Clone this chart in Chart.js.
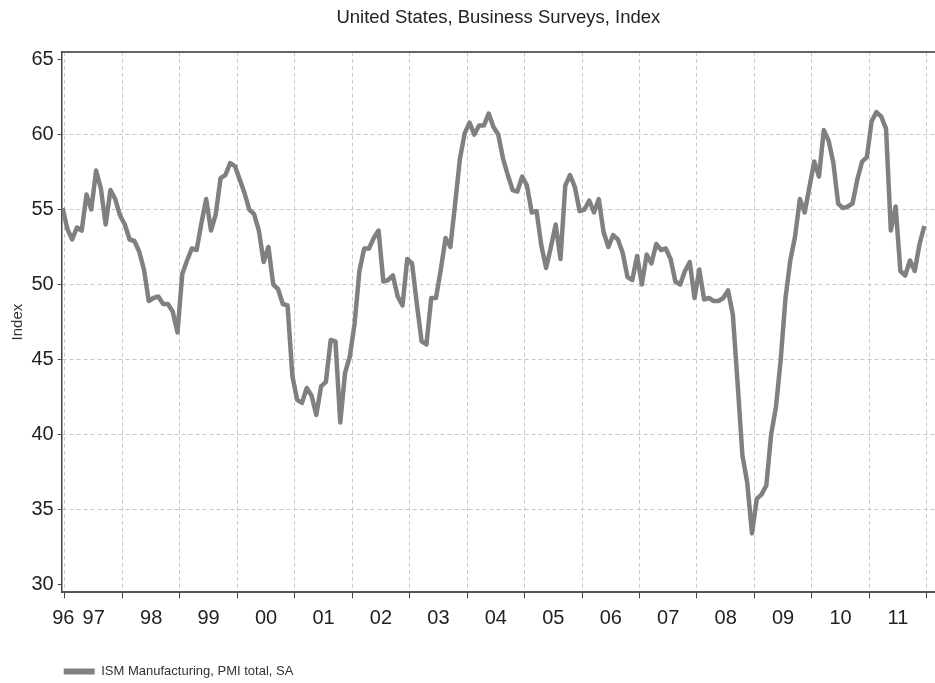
<!DOCTYPE html>
<html>
<head>
<meta charset="utf-8">
<script src="https://cdn.jsdelivr.net/npm/chart.js@4.4.0/dist/chart.umd.min.js"></script>
<style>
  html, body { margin: 0; padding: 0; background: #fff; }
</style>
</head>
<body>
<canvas id="chart" width="935" height="683"></canvas>
<script>
// ISM Manufacturing PMI, monthly, Dec 1996 - Dec 2011
const firstYear = 1996;
const firstMonth = 12;
const pmi1996 = [55.1];
const pmi1997 = [53.7, 53.0, 53.8, 53.6, 56.0, 55.0, 57.6, 56.4, 54.0, 56.3, 55.7, 54.6];
const pmi1998 = [54.0, 53.0, 52.9, 52.2, 51.0, 48.9, 49.1, 49.2, 48.7, 48.7, 48.2, 46.8];
const pmi1999 = [50.7, 51.6, 52.4, 52.3, 54.1, 55.7, 53.6, 54.7, 57.1, 57.3, 58.1, 57.9];
const pmi2000 = [57.0, 56.1, 55.0, 54.7, 53.6, 51.5, 52.5, 50.0, 49.7, 48.7, 48.6, 43.9];
const pmi2001 = [42.3, 42.1, 43.1, 42.6, 41.3, 43.2, 43.5, 46.3, 46.2, 40.8, 44.1, 45.2];
const pmi2002 = [47.4, 50.9, 52.4, 52.4, 53.1, 53.6, 50.2, 50.3, 50.6, 49.2, 48.6, 51.7];
const pmi2003 = [51.4, 48.7, 46.2, 46.0, 49.1, 49.1, 51.0, 53.1, 52.5, 55.4, 58.4, 60.1];
const pmi2004 = [60.8, 60.0, 60.6, 60.6, 61.4, 60.5, 60.0, 58.4, 57.3, 56.3, 56.2, 57.2];
const pmi2005 = [56.6, 54.8, 54.9, 52.6, 51.1, 52.5, 54.0, 51.7, 56.6, 57.3, 56.5, 54.9];
const pmi2006 = [55.0, 55.6, 54.8, 55.7, 53.5, 52.5, 53.3, 53.0, 52.1, 50.5, 50.3, 51.9];
const pmi2007 = [50.0, 52.0, 51.4, 52.7, 52.3, 52.4, 51.7, 50.2, 50.0, 50.9, 51.5, 49.1];
const pmi2008 = [51.0, 49.0, 49.1, 48.9, 48.9, 49.1, 49.6, 48.0, 43.4, 38.6, 36.8, 33.4];
const pmi2009 = [35.7, 36.0, 36.6, 40.0, 41.8, 45.0, 49.1, 51.6, 53.2, 55.7, 54.8, 56.5];
const pmi2010 = [58.2, 57.2, 60.3, 59.6, 58.1, 55.4, 55.1, 55.2, 55.4, 57.0, 58.2, 58.5];
const pmi2011 = [60.9, 61.5, 61.2, 60.4, 53.6, 55.2, 50.9, 50.6, 51.6, 50.9, 52.7, 53.9];

const yearLabels = ['96', '97', '98', '99', '00', '01', '02', '03', '04', '05', '06', '07', '08', '09', '10', '11'];
const yTicks = [30, 35, 40, 45, 50, 55, 60, 65];

const seriesName = 'ISM Manufacturing, PMI total, SA';
const titleText = 'United States, Business Surveys, Index';

const xMin = 1996.943, xMax = 2012.144;
const yMin = 29.47, yMax = 65.52;

const pmi = [pmi1996, pmi1997, pmi1998, pmi1999, pmi2000, pmi2001, pmi2002, pmi2003,
  pmi2004, pmi2005, pmi2006, pmi2007, pmi2008, pmi2009, pmi2010, pmi2011].flat();

// monthly points placed mid-month in decimal years
const points = pmi.map((v, i) => ({ x: firstYear + (firstMonth - 1 + i + 0.5) / 12, y: v }));

// year boundaries get grid lines + tick marks, mid-year ticks get the labels
const boundaries = yearLabels.map((_, k) => firstYear + k + 1);
const labelAt = new Map();
yearLabels.forEach((lab, k) => {
  const yr = firstYear + k;
  const pos = yr < xMin ? (xMin + yr + 1) / 2 : yr + 0.5;
  labelAt.set(+pos.toFixed(4), lab);
});
const isBoundary = v => boundaries.some(b => Math.abs(b - v) < 1e-6);

const FONT = '"Liberation Sans", Arial, Helvetica, sans-serif';
Chart.defaults.font.family = FONT;
Chart.defaults.color = '#222';

const GRID = '#c8c8c8';

new Chart(document.getElementById('chart'), {
  type: 'line',
  data: {
    datasets: [{
      label: seriesName,
      data: points,
      borderColor: '#808080',
      backgroundColor: '#808080',
      borderWidth: 4.5,
      borderJoinStyle: 'round',
      pointRadius: 0,
      tension: 0,
      fill: false
    }]
  },
  options: {
    responsive: false,
    animation: false,
    layout: { padding: { left: 0, right: 0, top: 0, bottom: -5 } },
    plugins: {
      title: {
        display: true,
        text: titleText,
        fullSize: false,
        color: '#222',
        font: { size: 18.5, weight: 'normal' },
        padding: { top: 7, bottom: 22.6 }
      },
      legend: {
        position: 'bottom',
        align: 'start',
        fullSize: false,
        labels: {
          boxWidth: 31,
          boxHeight: 6,
          padding: 2,
          color: '#333',
          font: { size: 13 },
          generateLabels: chart => Chart.defaults.plugins.legend.labels.generateLabels(chart)
            .map(l => Object.assign(l, { lineWidth: 0, fillStyle: '#808080' }))
        }
      },
      tooltip: { enabled: false }
    },
    scales: {
      x: {
        type: 'linear',
        position: 'bottom',
        min: xMin,
        max: xMax,
        afterBuildTicks: axis => {
          const vals = boundaries.concat([...labelAt.keys()]).sort((a, b) => a - b);
          axis.ticks = vals.map(v => ({ value: v }));
        },
        ticks: {
          autoSkip: false,
          maxRotation: 0,
          padding: 8,
          color: '#222',
          font: { size: 20 },
          callback: v => labelAt.get(+(+v).toFixed(4)) || ''
        },
        grid: {
          color: c => (c.tick && isBoundary(c.tick.value)) ? GRID : 'rgba(0,0,0,0)',
          tickColor: c => (c.tick && isBoundary(c.tick.value)) ? '#444' : 'rgba(0,0,0,0)',
          tickLength: 6,
          lineWidth: 1
        },
        border: { color: '#555', width: 2, dash: [4, 3] },
        afterFit: s => { s.height = 70.7; }
      },
      xTop: {
        type: 'linear',
        position: 'top',
        min: xMin,
        max: xMax,
        grid: { display: false, drawTicks: false },
        ticks: { display: false },
        border: { color: '#666', width: 2 },
        afterFit: s => { s.height = 0; }
      },
      y: {
        min: yMin,
        max: yMax,
        afterBuildTicks: axis => { axis.ticks = yTicks.map(v => ({ value: v })); },
        ticks: {
          padding: 4,
          color: '#222',
          font: { size: 20 }
        },
        grid: {
          color: c => (c.tick && c.tick.value > yTicks[0] && c.tick.value < yTicks[yTicks.length - 1]) ? GRID : 'rgba(0,0,0,0)',
          tickColor: '#444',
          tickLength: 4,
          lineWidth: 1
        },
        border: { color: '#444', width: 1.5, dash: [4, 3] },
        title: {
          display: true,
          text: 'Index',
          color: '#333',
          font: { size: 15 },
          padding: { top: 9, bottom: 0 }
        },
        afterFit: s => { s.width = 61.7; }
      }
    }
  }
});
</script>
</body>
</html>
